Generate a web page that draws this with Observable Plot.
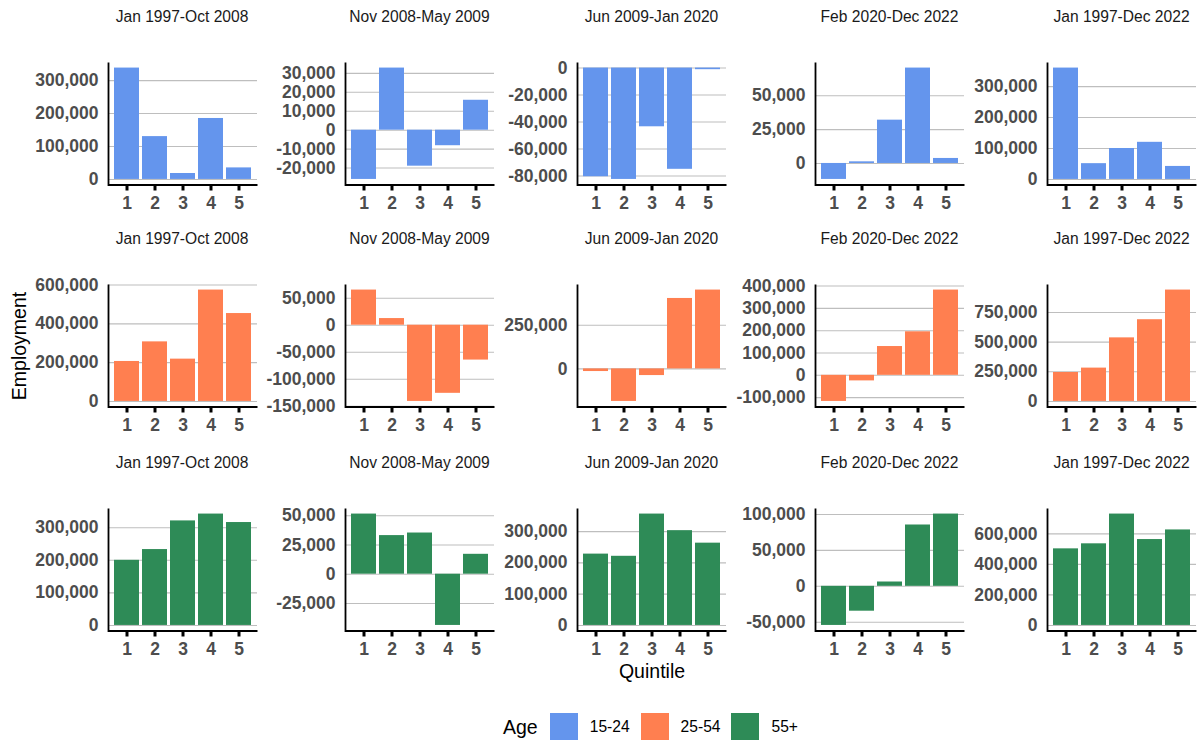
<!DOCTYPE html>
<html>
<head>
<meta charset="utf-8">
<script src="https://cdn.jsdelivr.net/npm/d3@7"></script>
<script src="https://cdn.jsdelivr.net/npm/@observablehq/plot@0.6"></script>
<style>
  body { margin: 0; background: #fff; font-family: "Liberation Sans", Arial, sans-serif; }
  #chart { position: relative; width: 1200px; height: 740px; overflow: hidden; }
  .panel { position: absolute; }
  .panel svg { overflow: visible; }
  .panel g[aria-label="x-axis tick"] { stroke: #000; stroke-width: 3px; }
  .panel g[aria-label="x-axis"] line { stroke: #000; stroke-width: 3px; }
  .strip { position: absolute; font-size: 15.6px; color: #1a1a1a; white-space: nowrap; transform: translate(-50%, -50%); }
  .axis-title { position: absolute; font-size: 19.5px; color: #000; white-space: nowrap; transform: translate(-50%, -50%); }
  #legend { position: absolute; left: 503px; top: 713px; height: 28px; display: flex; align-items: center; }
  #legend .ttl { font-size: 19.5px; color: #000; margin-right: 12px; }
  #legend .sw { width: 28px; height: 28px; margin-right: 12px; }
  #legend .lab { font-size: 15.6px; color: #000; margin-right: 11px; }
</style>
</head>
<body>
<div id="chart"></div>
<script>
// facet labels
const periods = ["Jan 1997-Oct 2008", "Nov 2008-May 2009", "Jun 2009-Jan 2020", "Feb 2020-Dec 2022", "Jan 1997-Dec 2022"];
const quintiles = ["1", "2", "3", "4", "5"];
const ageGroups = ["15-24", "25-54", "55+"];
const ageColors = ["#6495ED", "#FF7F50", "#2E8B57"];

// employment change by quintile, one array per period
const emp15_24 = [
  [338000, 130000, 18000, 185000, 35000],
  [-26000, 32800, -19000, -8200, 15800],
  [-80500, -82500, -43500, -75000, -1200],
  [-11800, 1200, 32000, 70500, 3700],
  [360000, 51000, 100000, 120000, 42000]
];
const emp25_54 = [
  [206000, 307000, 218000, 574000, 453000],
  [65000, 12300, -141000, -126000, -64500],
  [-15000, -186000, -38000, 403000, 451000],
  [-117000, -25000, 129000, 195000, 382000],
  [244000, 281000, 536000, 689000, 939000]
];
const emp55plus = [
  [200000, 233000, 321000, 342000, 316000],
  [51400, 33000, 35200, -43800, 17000],
  [228000, 221000, 356000, 303000, 263000],
  [-54400, -34600, 6000, 85300, 100500],
  [502000, 535000, 730000, 563000, 626000]
];

// y tick labels for each panel
const ticks15_24 = [
  [0, 100000, 200000, 300000],
  [-20000, -10000, 0, 10000, 20000, 30000],
  [-80000, -60000, -40000, -20000, 0],
  [0, 25000, 50000],
  [0, 100000, 200000, 300000]
];
const ticks25_54 = [
  [0, 200000, 400000, 600000],
  [-150000, -100000, -50000, 0, 50000],
  [0, 250000],
  [-100000, 0, 100000, 200000, 300000, 400000],
  [0, 250000, 500000, 750000]
];
const ticks55plus = [
  [0, 100000, 200000, 300000],
  [-25000, 0, 25000, 50000],
  [0, 100000, 200000, 300000],
  [-50000, 0, 50000, 100000],
  [0, 200000, 400000, 600000]
];

const rowsValues = [emp15_24, emp25_54, emp55plus];
const rowsTicks = [ticks15_24, ticks25_54, ticks55plus];

// layout
const PW = 149, PH = 122.5;
const colLeft = [107.5, 345, 577, 815, 1047];
const rowTop = [62, 284, 508];
const ML = 100, MR = 2, MT = 2, MB = 34;

const root = document.getElementById("chart");

function addPanel(values, ticks, color, left, top) {
  const lo = Math.min(0, d3.min(values));
  const hi = Math.max(0, d3.max(values));
  const pad = (hi - lo) * 0.05;
  const data = quintiles.map((q, i) => ({q, v: values[i]}));
  const chart = Plot.plot({
    width: PW + ML + MR,
    height: PH + MT + MB,
    marginLeft: ML, marginRight: MR, marginTop: MT, marginBottom: MB,
    style: {
      fontFamily: "'Liberation Sans', Arial, sans-serif",
      fontSize: "17.5px",
      fontWeight: "bold",
      color: "#4d4d4d",
      background: "transparent",
      overflow: "visible"
    },
    x: {type: "band", domain: quintiles, paddingInner: 0.1, paddingOuter: 0.15, tickSize: 6, tickPadding: 6, label: null},
    y: {domain: [lo - pad, hi + pad], ticks, tickFormat: d => d.toLocaleString("en-US"), tickSize: 0, tickPadding: 10, label: null},
    marks: [
      Plot.ruleY(ticks, {stroke: "#bebebe", strokeWidth: 1.1}),
      Plot.barY(data, {x: "q", y: "v", fill: color}),
      // left + bottom axis lines only
      Plot.frame({stroke: "#000", strokeWidth: 1.8, strokeDasharray: `0 ${PW + PH} ${PW + PH}`})
    ]
  });
  const div = document.createElement("div");
  div.className = "panel";
  div.style.left = (left - ML) + "px";
  div.style.top = (top - MT) + "px";
  div.appendChild(chart);
  root.appendChild(div);
}

rowsValues.forEach((rowVals, r) => {
  rowVals.forEach((vals, c) => {
    addPanel(vals, rowsTicks[r][c], ageColors[r], colLeft[c], rowTop[r]);
    const s = document.createElement("div");
    s.className = "strip";
    s.textContent = periods[c];
    s.style.left = (colLeft[c] + PW / 2) + "px";
    s.style.top = (rowTop[r] - 45.5) + "px";
    root.appendChild(s);
  });
});

// axis titles
const yt = document.createElement("div");
yt.className = "axis-title";
yt.textContent = "Employment";
yt.style.left = "19px";
yt.style.top = "346px";
yt.style.transform = "translate(-50%, -50%) rotate(-90deg)";
root.appendChild(yt);

const xt = document.createElement("div");
xt.className = "axis-title";
xt.textContent = "Quintile";
xt.style.left = "652px";
xt.style.top = "671px";
root.appendChild(xt);

// legend
const legend = document.createElement("div");
legend.id = "legend";
const lt = document.createElement("span");
lt.className = "ttl";
lt.textContent = "Age";
legend.appendChild(lt);
ageGroups.forEach((g, i) => {
  const sw = document.createElement("span");
  sw.className = "sw";
  sw.style.background = ageColors[i];
  legend.appendChild(sw);
  const lab = document.createElement("span");
  lab.className = "lab";
  lab.textContent = g;
  legend.appendChild(lab);
});
root.appendChild(legend);
</script>
</body>
</html>
